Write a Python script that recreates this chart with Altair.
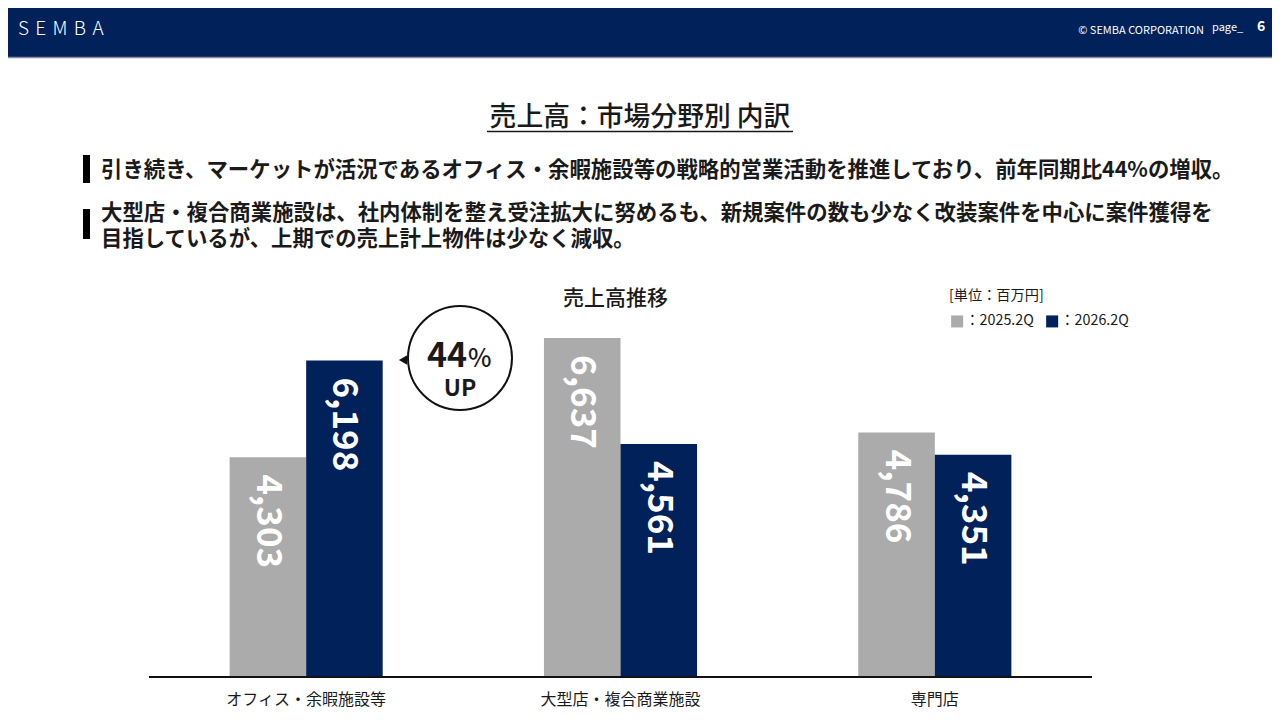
import altair as alt
import pandas as pd

FONT = "Noto Sans CJK JP"
NAVY = "#00215A"
GRAY = "#ABABAB"
INK = "#1A1A1A"

categories = ["オフィス・余暇施設等", "大型店・複合商業施設", "専門店"]
series = ["2025.2Q", "2026.2Q"]
values_2025 = [4303, 6637, 4786]
values_2026 = [6198, 4561, 4351]

title_text = "売上高：市場分野別 内訳"
bullet1 = "引き続き、マーケットが活況であるオフィス・余暇施設等の戦略的営業活動を推進しており、前年同期比44%の増収。"
bullet2a = "大型店・複合商業施設は、社内体制を整え受注拡大に努めるも、新規案件の数も少なく改装案件を中心に案件獲得を"
bullet2b = "目指しているが、上期での売上計上物件は少なく減収。"
chart_title = "売上高推移"
unit_text = "[単位：百万円]"

rows = []
for i, c in enumerate(categories):
    rows.append({"category": c, "series": series[0], "value": values_2025[i]})
    rows.append({"category": c, "series": series[1], "value": values_2026[i]})
df = pd.DataFrame(rows)


def txt(t, x, y, size, color=INK, weight="normal", align="left", baseline="middle"):
    return alt.Chart(pd.DataFrame({"t": [t]})).mark_text(
        font=FONT, fontSize=size, color=color, fontWeight=weight,
        align=align, baseline=baseline
    ).encode(text="t:N", x=alt.value(x), y=alt.value(y))


def box(x, x2, y, y2, color):
    return alt.Chart(pd.DataFrame({"a": [0]})).mark_rect(color=color).encode(
        x=alt.value(x), x2=alt.value(x2), y=alt.value(y), y2=alt.value(y2)
    )


def hline(x, x2, y, color, width):
    return alt.Chart(pd.DataFrame({"a": [0]})).mark_rule(color=color, strokeWidth=width).encode(
        x=alt.value(x), x2=alt.value(x2), y=alt.value(y)
    )


W, H = 1264, 704

# header
header = box(0, W, 0, 49, NAVY)
header_line = hline(0, W, 49.5, "#7F8CA3", 1.5)
logo = txt("S\u2004E\u2004M\u2004B\u2004A", 10, 20.5, 19, color="white", weight=300)
copy = txt("© SEMBA CORPORATION", 1196, 23, 11, color="white", align="right")
page_lbl = txt("page_", 1204, 20, 11, color="white")
page_num = txt("6", 1249, 19, 14, color="white", weight="bold")

# titles
title = txt(title_text, 632, 110, 26.8, weight=500, align="center")
underline = hline(479, 785, 123.5, INK, 1.5)
b1_bar = box(75, 82, 147, 175, "#000000")
b2_bar = box(75, 82, 201, 231, "#000000")
b1 = txt(bullet1, 93, 163, 21.4, weight="bold")
b2a = txt(bullet2a, 93, 206, 21.4, weight="bold")
b2b = txt(bullet2b, 93, 232, 21.4, weight="bold")
ctitle = txt(chart_title, 607.5, 291, 21, weight=500, align="center")
unit = txt(unit_text, 941, 288, 14.2)

# bars
x_enc = alt.X(
    "category:N", sort=categories, axis=None,
    scale=alt.Scale(domain=categories, range=[141, 1084], paddingInner=0.513, paddingOuter=0.2565),
)
xo_enc = alt.XOffset("series:N", sort=series, scale=alt.Scale(domain=series, paddingInner=0, paddingOuter=0))
y_enc = alt.Y("value:Q", axis=None, scale=alt.Scale(domain=[0, 10000], range=[669, 158.2]))

bars = alt.Chart(df).mark_bar().encode(
    x=x_enc, xOffset=xo_enc, y=y_enc,
    color=alt.Color(
        "series:N", sort=series,
        scale=alt.Scale(domain=series, range=[GRAY, NAVY]),
        legend=alt.Legend(
            orient="none", legendX=942, legendY=306, direction="horizontal", title=None,
            symbolType="square", symbolSize=144, symbolStrokeWidth=0,
            labelFont=FONT, labelFontSize=14.3, labelColor=INK, labelExpr="'：' + datum.label",
            columnPadding=11, labelOffset=1, padding=0,
        ),
    ),
)

bar_labels = alt.Chart(df).mark_text(
    angle=90, align="left", baseline="middle", dx=17, font=FONT, fontSize=35,
    fontWeight="bold", color="white"
).encode(x=x_enc, xOffset=xo_enc, y=y_enc, text=alt.Text("value:Q", format=","))

baseline = alt.Chart(pd.DataFrame({"a": [0]})).mark_rule(color="#111111", strokeWidth=2).encode(
    x=alt.value(141), x2=alt.value(1084), y=alt.datum(0)
)

cat_labels = alt.Chart(pd.DataFrame({"category": categories})).mark_text(
    font=FONT, fontSize=16, color=INK, baseline="middle"
).encode(x=x_enc, y=alt.value(692), text="category:N")

# callout
pointer = alt.Chart(pd.DataFrame({"a": [0]})).mark_point(
    shape="triangle-left", filled=True, color="#111111", size=90, opacity=1
).encode(x=alt.value(395), y=alt.value(352))
circle = alt.Chart(pd.DataFrame({"a": [0]})).mark_point(
    shape="circle", filled=False, fill="white", fillOpacity=1, stroke="#111111", strokeWidth=2,
    size=10816, opacity=1
).encode(x=alt.value(452), y=alt.value(350))
c44 = txt("44", 459, 359, 34, weight="bold", align="right", baseline="alphabetic")
cpct = txt("%", 460, 359, 25, weight=500, baseline="alphabetic")
cup = txt("UP", 452, 388, 23, weight="bold", align="center", baseline="alphabetic")

chart = alt.layer(
    header, header_line, logo, copy, page_lbl, page_num,
    title, underline, b1_bar, b2_bar, b1, b2a, b2b, ctitle, unit,
    bars, bar_labels, baseline, cat_labels,
    pointer, circle, c44, cpct, cup,
).properties(
    width=W, height=H, padding=0, autosize=alt.AutoSizeParams(type="none"),
    background="white",
).configure_view(stroke=None)

chart.save("out.html", embed_options={"renderer": "svg", "actions": False})
